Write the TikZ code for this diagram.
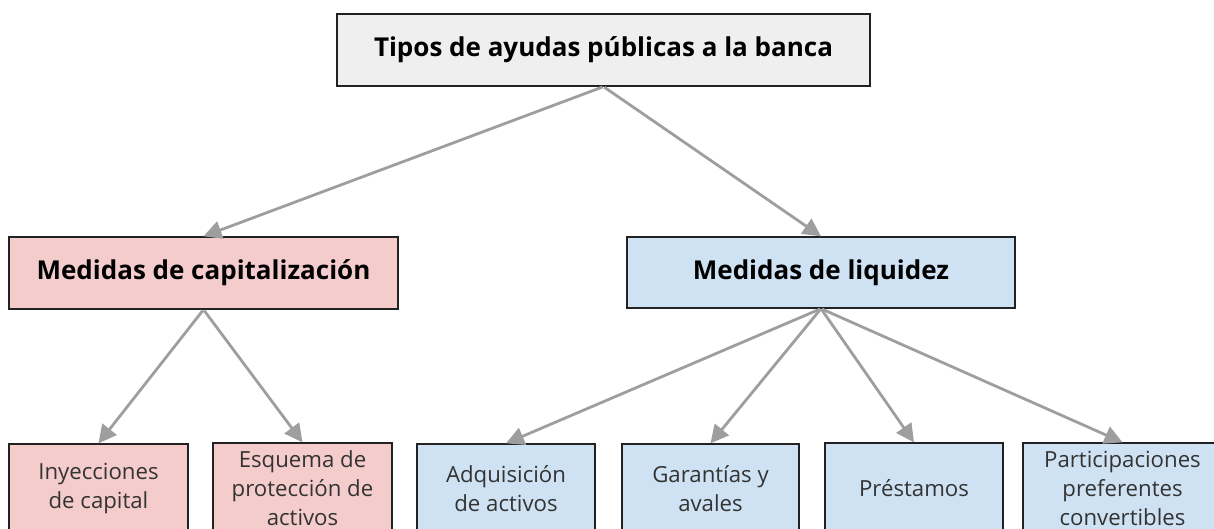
\documentclass[tikz,border=0pt]{standalone}
\usepackage{fontspec}
\setmainfont{Open Sans}
\usetikzlibrary{arrows.meta}
\definecolor{linegray}{HTML}{9E9E9E}
\definecolor{topfill}{HTML}{EFEFEF}
\definecolor{pinkfill}{HTML}{F4CCCC}
\definecolor{bluefill}{HTML}{CFE2F3}
\definecolor{edgecol}{HTML}{222222}
\definecolor{leaftext}{HTML}{333333}
\tikzset{
  boxbase/.style={draw=edgecol, line width=1.3pt, rectangle, inner sep=0pt, align=center},
  headbox/.style={boxbase, font=\fontsize{26}{30}\selectfont\bfseries},
  leafbox/.style={boxbase, text=leaftext, font=\fontsize{22.2}{29}\selectfont, minimum width=178pt, minimum height=90pt},
  conn/.style={draw=linegray, line width=2.8pt, -{Triangle[length=18pt,width=18pt]}, shorten <=1pt},
}
\begin{document}
\begin{tikzpicture}[x=1pt,y=-1pt]
\useasboundingbox (0,0) rectangle (1214,529);
\node[headbox, fill=topfill, minimum width=533pt, minimum height=72pt] (top) at (603.5,50) {Tipos de ayudas públicas a la banca};
\node[headbox, fill=pinkfill, minimum width=389pt, minimum height=72pt] (cap) at (203.5,273) {Medidas de capitalización};
\node[headbox, fill=bluefill, minimum width=388pt, minimum height=71pt] (liq) at (821,272.5) {Medidas de liquidez};
\node[leafbox, fill=pinkfill, minimum width=179pt] (b1) at (98.5,489) {Inyecciones\\de capital};
\node[leafbox, fill=pinkfill, minimum width=179pt] (b2) at (302.5,488) {Esquema de\\protección de\\activos};
\node[leafbox, fill=bluefill] (b3) at (506,489) {Adquisición\\de activos};
\node[leafbox, fill=bluefill, minimum width=177pt] (b4) at (710.5,489) {Garantías y\\avales};
\node[leafbox, fill=bluefill] (b5) at (914,488) {Préstamos};
\node[leafbox, fill=bluefill, minimum width=199pt] (b6) at (1122.5,488) {Participaciones\\preferentes\\convertibles};
\draw[conn] (top.south) -- (cap.north);
\draw[conn] (top.south) -- (liq.north);
\draw[conn] (cap.south) -- (b1.north);
\draw[conn] (cap.south) -- (b2.north);
\draw[conn] (liq.south) -- (b3.north);
\draw[conn] (liq.south) -- (b4.north);
\draw[conn] (liq.south) -- (b5.north);
\draw[conn] (liq.south) -- (b6.north);
\end{tikzpicture}
\end{document}
